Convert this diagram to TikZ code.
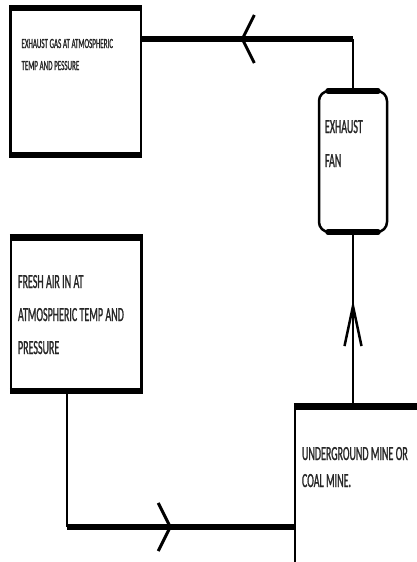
\documentclass[tikz,border=0pt]{standalone}
\usepackage{fontspec}
\newfontfamily\boxfont[FakeStretch=0.5,FakeBold=1]{Carlito}
\usetikzlibrary{arrows.meta,decorations.markings}
\tikzset{
  box/.style={draw,line width=2.5pt,outer sep=0pt,anchor=north west,align=left,
    inner ysep=0pt,text=black!85,
    execute at begin node={\spaceskip=.12em plus .05em\relax}},
  rim/.style={line width=6.5pt,shorten <=-1.25pt,shorten >=-1.25pt},
  hline/.style={line width=5.5pt},
  vline/.style={line width=2.5pt},
  flowh/.style={hline,postaction={decorate},decoration={markings,
    mark=at position #1 with {\arrow{Straight Barb[length=12pt,width=48pt,line width=3pt]}}}},
  flowv/.style={vline,postaction={decorate},decoration={markings,
    mark=at position #1 with {\arrow{Straight Barb[length=40pt,width=17pt,line width=2.5pt]}}}},
}
\begin{document}
\begin{tikzpicture}[x=1pt,y=-1pt]
  \useasboundingbox (0,0) rectangle (417,562);
  \clip (0,0) rectangle (417,562);
  % boxes
  \node[box,inner xsep=11pt,text width=108.5pt,text height=40pt,text depth=107pt,
    font=\boxfont\fontsize{14}{22}\selectfont] (gas) at (10.5,8)
    {EXHAUST GAS AT ATMOSPHERIC\\TEMP AND PESSURE};
  \node[box,rounded corners=10pt,inner xsep=6pt,text width=56pt,text height=42pt,text depth=99pt,
    font=\boxfont\fontsize{20}{34}\selectfont] (fan) at (319,91)
    {EXHAUST\\FAN};
  \node[box,inner xsep=7pt,text width=116.5pt,text height=50.5pt,text depth=103pt,
    font=\boxfont\fontsize{20}{33}\selectfont] (fresh) at (11,237.5)
    {FRESH AIR IN AT\\ATMOSPHERIC TEMP AND\\PRESSURE};
  \node[box,inner xsep=7pt,text width=136pt,text height=53.5pt,text depth=130pt,
    font=\boxfont\fontsize{20}{27}\selectfont] (mine) at (295,406.5)
    {UNDERGROUND MINE OR\\COAL MINE.};
  % connectors
  \coordinate (gasout) at ([yshift=-31pt]gas.north east);
  \coordinate (topbend) at (fan.north |- gasout);
  \draw[vline] (fan.north) -- (topbend);
  \draw[flowh=0.53] (topbend) -- (gasout);
  \coordinate (freshout) at ([xshift=56pt]fresh.south west);
  \coordinate (botbend) at ([yshift=-136pt]freshout);
  \draw[vline] (freshout) -- (botbend);
  \draw[flowh=0.46] (botbend) -- (botbend -| mine.west);
  \draw[flowv=0.61] (fan.south |- mine.north) -- (fan.south);
  % thick top and bottom edges
  \foreach \n in {gas,fresh,mine} {
    \draw[rim] (\n.north west) -- (\n.north east);
    \draw[rim] (\n.south west) -- (\n.south east);
  }
  \draw[line width=5.5pt,line cap=round] ([xshift=9pt]fan.north west) -- ([xshift=-9pt]fan.north east);
  \draw[line width=5.5pt,line cap=round] ([xshift=9pt]fan.south west) -- ([xshift=-9pt]fan.south east);
\end{tikzpicture}
\end{document}
